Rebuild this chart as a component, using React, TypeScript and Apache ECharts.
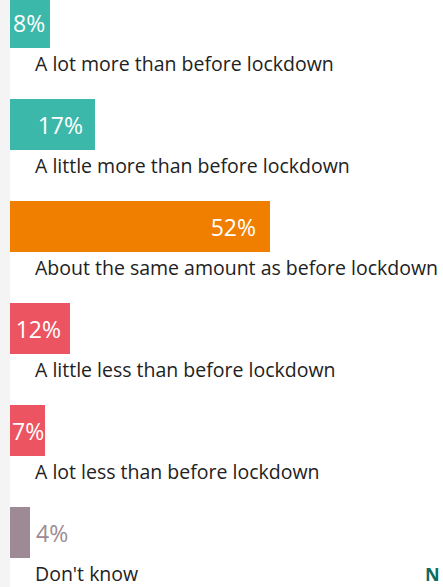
import React, { useEffect, useRef } from "react";
import * as echarts from "echarts";

const categories = [
  "A lot more than before lockdown",
  "A little more than before lockdown",
  "About the same amount as before lockdown",
  "A little less than before lockdown",
  "A lot less than before lockdown",
  "Don't know",
];
const values = [8, 17, 52, 12, 7, 4];
const colors = ["#3bb8a9", "#3bb8a9", "#f07f00", "#ec5461", "#ec5461", "#9e8a94"];

export default function App() {
  const ref = useRef<HTMLDivElement>(null);
  useEffect(() => {
    if (!ref.current) return;
    const chart = echarts.init(ref.current, null, { renderer: "svg" });
    const font = "'Open Sans', sans-serif";
    const labelCfg = [
      { position: "insideLeft", distance: 3, color: "#fff" },
      { position: "insideRight", distance: 12, color: "#fff" },
      { position: "insideRight", distance: 14, color: "#fff" },
      { position: "insideRight", distance: 9, color: "#fff" },
      { position: "insideLeft", distance: 2, color: "#fff" },
      { position: "right", distance: 6, color: "#9e8a94" },
    ];
    chart.setOption({
      animation: false,
      grid: { left: 10, right: 0, top: 22.5, bottom: 54.5 },
      xAxis: { type: "value", min: 0, max: 86.6, show: false },
      yAxis: {
        type: "category",
        data: categories,
        inverse: true,
        boundaryGap: false,
        axisLine: { show: false },
        axisTick: { show: false },
        splitLine: { show: false },
        axisLabel: {
          inside: true,
          margin: 25,
          align: "left",
          verticalAlign: "top",
          lineHeight: 22,
          padding: [30, 0, 0, 0],
          fontFamily: font,
          fontSize: 19.5,
          color: "#222",
        },
      },
      series: [
        {
          type: "bar",
          barWidth: 51,
          data: values.map((v, i) => ({
            value: v,
            itemStyle: { color: colors[i] },
            label: {
              show: true,
              position: labelCfg[i].position,
              distance: labelCfg[i].distance,
              color: labelCfg[i].color,
              formatter: "{c}%",
              fontFamily: font,
              fontSize: 23,
              fontWeight: 500,
            },
          })),
        },
      ],
      graphic: [
        { type: "rect", left: 0, top: 0, shape: { width: 10, height: 587 }, style: { fill: "#f4f4f4" }, z: -1 },
        {
          type: "text",
          left: 425,
          top: 565,
          style: { text: "N", fontFamily: font, fontSize: 18, fontWeight: "bold", fill: "#0b6b5f" },
        },
      ],
    });
    return () => chart.dispose();
  }, []);
  return (
    <div
      ref={ref}
      style={{ position: "fixed", left: 0, top: 0, width: 443, height: 587, background: "#fff" }}
    />
  );
}
